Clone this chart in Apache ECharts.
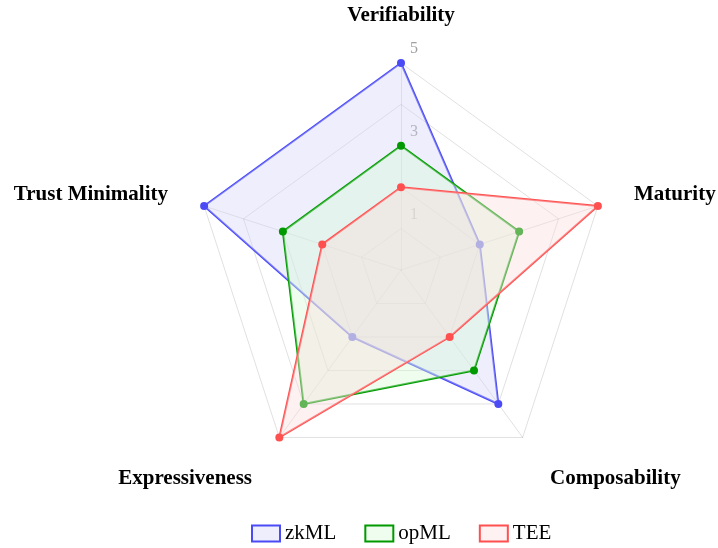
<!DOCTYPE html>
<html>
<head>
<meta charset="utf-8">
<script src="https://cdn.jsdelivr.net/npm/echarts@6/dist/echarts.min.js"></script>
<style>html,body{margin:0;padding:0;background:#fff}#c{width:718px;height:548px}</style>
</head>
<body>
<div id="c"></div>
<script>
// Indicator order as ECharts lays them out (counter-clockwise from top)
var categories = ['Verifiability', 'Trust Minimality', 'Expressiveness', 'Composability', 'Maturity'];
var zkML = [5, 5, 2, 4, 2];
var opML = [3, 3, 4, 3, 3];
var TEE  = [2, 2, 5, 2, 5];
var tickLabels = [1, 3, 5];
var maxValue = 5;

var serif = '"Liberation Serif", "DejaVu Serif", serif';
var styles = {
  zkML: { line: 'rgb(75,75,245)', fill: 'rgba(212,212,250,0.4)' },
  opML: { line: 'rgb(0,153,0)', fill: 'rgba(212,250,212,0.4)' },
  TEE:  { line: 'rgb(255,80,80)', fill: 'rgba(250,220,220,0.4)' }
};
var seriesData = { zkML: zkML, opML: opML, TEE: TEE };
var names = ['zkML', 'opML', 'TEE'];
// which label style each indicator name uses (top / side / bottom-right / bottom-left)
var namePlacement = ['top', 'side', 'bl', 'br', 'side'];

var nameFont = { color: '#000', fontFamily: serif, fontSize: 21, fontWeight: 'bold' };
function rs(pad) { return Object.assign({ padding: pad }, nameFont); }

var chart = echarts.init(document.getElementById('c'), null, { renderer: 'canvas' });
var option = {
  backgroundColor: '#fff',
  animation: false,
  legend: {
    bottom: -1,
    left: 246,
    itemWidth: 28,
    itemHeight: 16,
    itemGap: 28,
    textStyle: { fontFamily: serif, fontSize: 21, color: '#000' },
    data: names.map(function (n) {
      return { name: n, icon: 'rect', itemStyle: { color: styles[n].fill, borderColor: styles[n].line, borderWidth: 2 } };
    })
  },
  radar: {
    center: [401, 270],
    radius: 207,
    splitNumber: 5,
    shape: 'polygon',
    nameGap: 38,
    axisName: {
      color: '#000', fontFamily: serif, fontSize: 21, fontWeight: 'bold', verticalAlign: 'middle',
      formatter: function (name) {
        var i = categories.indexOf(name);
        return '{' + namePlacement[i] + '|' + name + '}';
      },
      rich: {
        top: rs([0, 0, 18, 0]),
        side: rs([0, 0, 0, 0]),
        br: rs([20, 0, 0, 5]),
        bl: rs([20, 5, 0, 0])
      }
    },
    indicator: categories.map(function (c) { return { name: c, min: 0, max: maxValue }; }),
    splitArea: { show: false },
    splitLine: { lineStyle: { color: 'rgba(0,0,0,0.12)', width: 1 } },
    axisLine: { lineStyle: { color: 'rgba(0,0,0,0.12)', width: 1 } },
    axisTick: { show: false },
    axisLabel: { show: false }
  },
  polar: { center: [401, 270], radius: 207 },
  angleAxis: { startAngle: 90, show: false, min: 0, max: 360 },
  radiusAxis: {
    min: 0, max: maxValue, interval: 1,
    axisLine: { show: false }, axisTick: { show: false }, splitLine: { show: false },
    axisLabel: {
      margin: -9, align: 'left',
      verticalAlign: 'bottom', padding: [0, 0, 6, 0],
      color: '#a0a0a0', fontFamily: serif, fontSize: 16,
      formatter: function (v) { return tickLabels.indexOf(v) >= 0 ? String(v) : ''; }
    }
  },
  series: names.map(function (n, i) {
    return {
      name: n,
      type: 'radar',
      z: 2 + i,
      symbol: 'circle',
      symbolSize: 8,
      lineStyle: { color: styles[n].line, width: 2 },
      itemStyle: { color: styles[n].line },
      areaStyle: { color: styles[n].fill, opacity: 1 },
      data: [{ value: seriesData[n], name: n }]
    };
  })
};
chart.setOption(option);
</script>
</body>
</html>
